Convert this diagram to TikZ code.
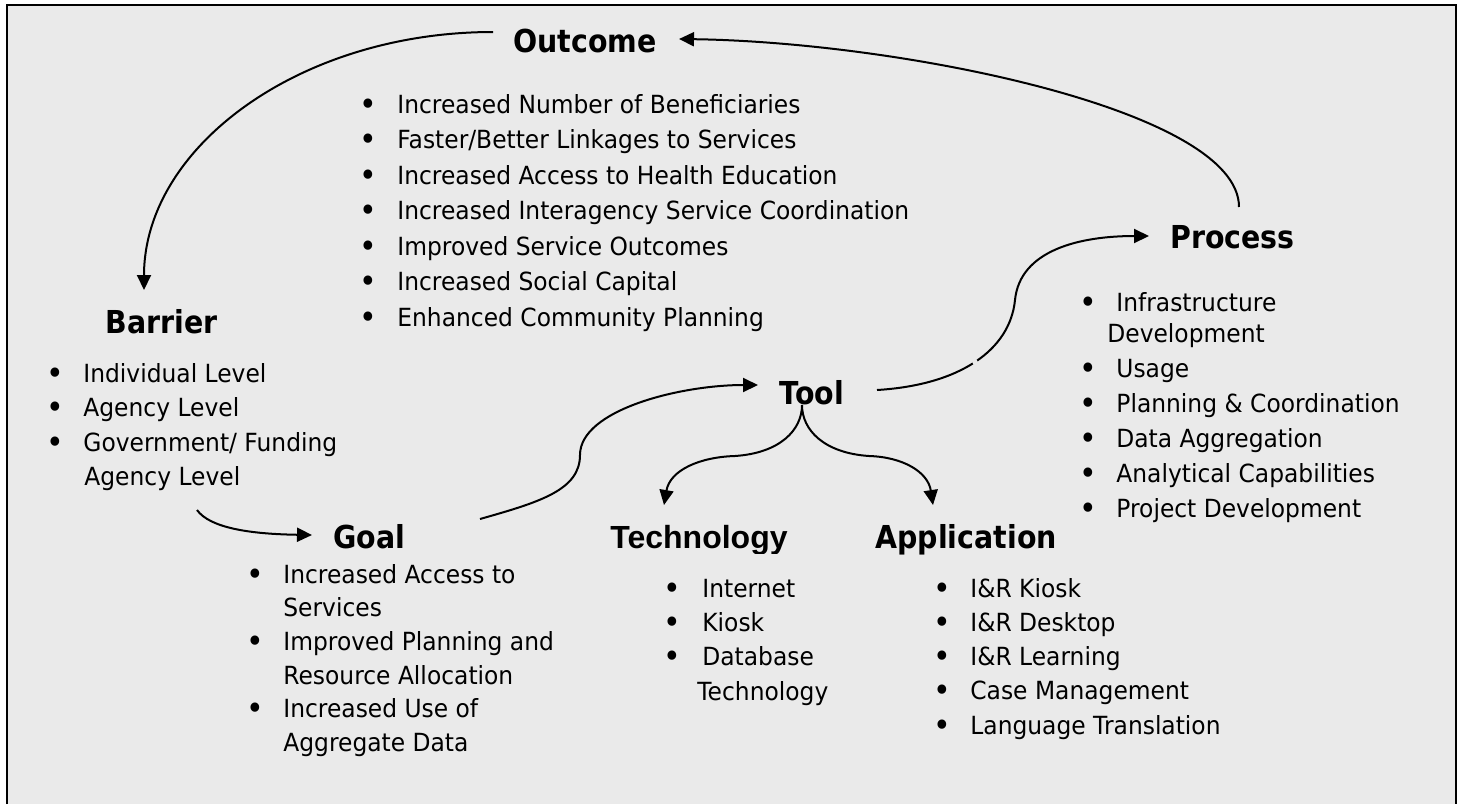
\documentclass[tikz,border=0pt]{standalone}
\usepackage{fontspec}
\setmainfont{DejaVu Sans}[FakeStretch=0.935]
\newfontfamily\ttlfont{DejaVu Sans}[FakeStretch=0.9]
\newfontfamily\arialfont{Liberation Sans}
\usetikzlibrary{arrows.meta}
\definecolor{bg}{HTML}{EAEAEA}
\begin{document}
\begin{tikzpicture}[x=0.5pt,y=-0.5pt,
  itm/.style={anchor=base west, inner sep=0pt, font=\fontsize{12.5}{15}\selectfont},
  bul/.style={anchor=base, inner sep=0pt, font=\fontsize{16}{18}\selectfont},
  ttl/.style={anchor=base west, inner sep=0pt, font=\ttlfont\fontsize{15.8}{18}\selectfont\bfseries},
  arr/.style={line width=1pt, -{Triangle[length=7.5pt,width=7pt]}},
  gapmark/.style={bg, line width=2.5pt}]
\useasboundingbox (0,0) rectangle (1463,804);
\fill[white] (0,0) rectangle (1463,804);
\fill[bg] (7,5) rectangle (1456,804);
\draw[line width=1.2pt] (7,804) -- (7,5) -- (1456,5) -- (1456,804);

% titles
\node[ttl] (outcome) at (513,52) {Outcome};
\node[ttl] (process) at (1170,248) {Process};
\node[ttl] (barrier) at (105,333) {Barrier};
\node[ttl] (goal) at (333,548) {Goal};
\node[ttl] (tool) at (779,404) {Tool};
\begin{scope}
\clip (600,500) rectangle (800,553);
\node[ttl, font=\arialfont\fontsize{16}{18}\selectfont\bfseries] (technology) at (610,548) {Technology};
\end{scope}
\node[ttl] (application) at (875,548) {Application};

% Outcome list
\foreach \t [count=\i] in {Increased Number of Beneficiaries, Faster/Better Linkages to Services, Increased Access to Health Education, Increased Interagency Service Coordination, Improved Service Outcomes, Increased Social Capital, Enhanced Community Planning}{
  \node[bul] (ob\i) at (368,{115+35.5*(\i-1)}) {•};
  \node[itm] (ot\i) at (397,{113+35.5*(\i-1)}) {\t};
}

% Barrier list
\foreach \t [count=\i] in {Individual Level, Agency Level, Government/ Funding}{
  \node[bul] (bb\i) at (55,{384+34.5*(\i-1)}) {•};
  \node[itm] (bt\i) at (83,{382+34.5*(\i-1)}) {\t};
}
\node[itm] (bt4) at (84,485.5) {Agency Level};

% Goal list
\node[bul] (gb1) at (255,585) {•};
\node[itm] (gt1) at (283,583) {Increased Access to};
\node[itm] (gt2) at (283,616.6) {Services};
\node[bul] (gb2) at (255,652) {•};
\node[itm] (gt3) at (283,650) {Improved Planning and};
\node[itm] (gt4) at (283,684) {Resource Allocation};
\node[bul] (gb3) at (255,719) {•};
\node[itm] (gt5) at (283,717) {Increased Use of};
\node[itm] (gt6) at (283,751) {Aggregate Data};

% Technology list
\foreach \t [count=\i] in {Internet, Kiosk, Database}{
  \node[bul] (tb\i) at (672,{599+34.3*(\i-1)}) {•};
  \node[itm] (tt\i) at (702,{597+34.3*(\i-1)}) {\t};
}
\node[itm] (tt4) at (697,700) {Technology};

% Application list
\foreach \t [count=\i] in {I\&R Kiosk, I\&R Desktop, I\&R Learning, Case Management, Language Translation}{
  \node[bul] (ab\i) at (942,{599+34.3*(\i-1)}) {•};
  \node[itm] (at\i) at (970,{597+34.3*(\i-1)}) {\t};
}

% Process list
\node[bul] (pb1) at (1088,313) {•};
\node[itm] (pt1) at (1116,311) {Infrastructure};
\node[itm] (pt1b) at (1107,342) {Development};
\foreach \t [count=\i from 2] in {Usage, Planning \& Coordination, Data Aggregation, Analytical Capabilities, Project Development}{
  \node[bul] (pb\i) at (1088,{379+35*(\i-2)}) {•};
  \node[itm] (pt\i) at (1116,{377+35*(\i-2)}) {\t};
}

% connector end points
\coordinate (outS) at (493,32);
\coordinate (barE) at (144,290);
\coordinate (proS) at (1239,207);
\coordinate (outE) at (679,39);
\coordinate (toolR) at (877,390);
\coordinate (proE) at (1149,236);
\coordinate (goalR) at (480,519);
\coordinate (toolE) at (758,385);
\coordinate (barS) at (197,510);
\coordinate (goalE) at (312,535);
\coordinate (toolB) at (802,405);
\coordinate (techE) at (664,505);
\coordinate (appE) at (933,505);

% connectors
\draw[arr] (outS) .. controls (300,32) and (144,147) .. (barE);
\draw[arr] (proS) .. controls (1239,110) and (900,42) .. (outE);
\draw[arr] (toolR) .. controls (960,385) and (1010,350) .. (1015,300)
  .. controls (1020,250) and (1080,236) .. (proE);
\draw[gapmark] (972.5,357.7) -- (977.5,366.3);
\draw[arr] (goalR) .. controls (540,502) and (580,490) .. (580,455)
  .. controls (580,410) and (680,385) .. (toolE);
\draw[arr] (barS) .. controls (210,528) and (250,534) .. (goalE);
\draw[arr] (toolB) .. controls (802,430) and (780,453) .. (735,456)
  .. controls (700,457) and (670,470) .. (techE);
\draw[arr] (toolB) .. controls (802,430) and (824,453) .. (869,456)
  .. controls (903,457) and (928,472) .. (appE);
\end{tikzpicture}
\end{document}
